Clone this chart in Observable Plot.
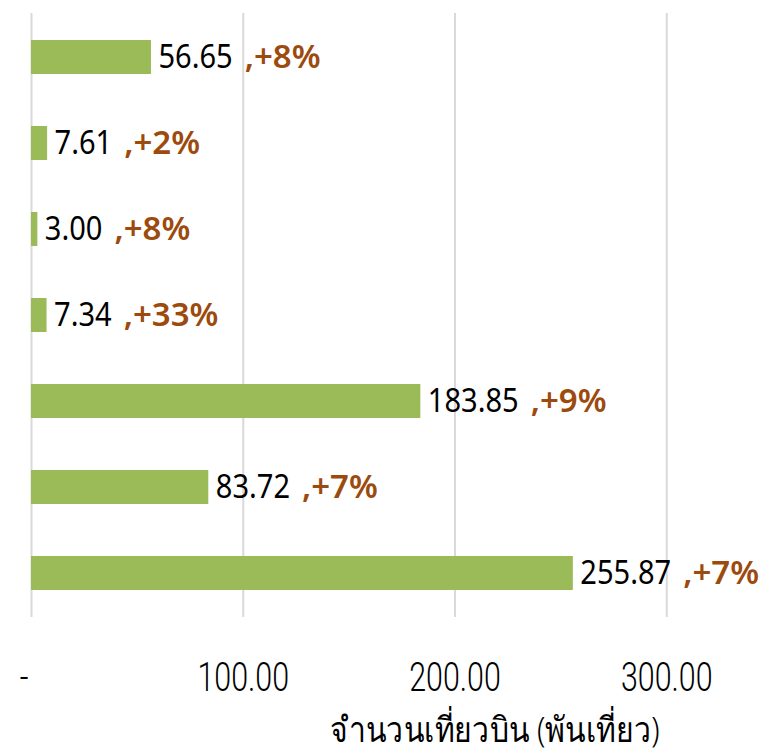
<!DOCTYPE html>
<html>
<head>
<meta charset="utf-8">
<script src="https://cdn.jsdelivr.net/npm/d3@7"></script>
<script src="https://cdn.jsdelivr.net/npm/@observablehq/plot@0.6"></script>
<style>
  body { margin: 0; background: #fff; }
  #chart { position: relative; width: 765px; height: 752px; overflow: hidden; }
  #xtitle { position: absolute; left: 495px; top: 710px; transform: translateX(-50%) scaleX(0.86);
    font-family: "Noto Sans", sans-serif; font-weight: 300; font-size: 35px; line-height: 1.1; color: #000; white-space: nowrap; }
</style>
</head>
<body>
<div id="chart"><div id="xtitle">จำนวนเที่ยวบิน (พันเที่ยว)</div></div>
<script>
const categories = ["A", "B", "C", "D", "E", "F", "G"];
const values = [56.65, 7.61, 3.00, 7.34, 183.85, 83.72, 255.87];
const changes = ["+8%", "+2%", "+8%", "+33%", "+9%", "+7%", "+7%"];
const tickValues = [0, 100, 200, 300];
const tickLabels = ["-\u00a0\u00a0", "100.00", "200.00", "300.00"];

const data = categories.map((c, i) => ({cat: c, value: values[i], change: changes[i]}));
const tickMap = new Map(tickValues.map((t, i) => [t, tickLabels[i]]));
const fmt = d3.format(".2f");

const chart = Plot.plot({
  width: 765,
  height: 710,
  marginLeft: 31,
  marginRight: 14,
  marginTop: 13,
  marginBottom: 93,
  style: {fontFamily: "Roboto, 'Noto Sans', sans-serif", fontSize: "30px", color: "#000", background: "#fff"},
  x: {domain: [0, 340]},
  y: {domain: categories, axis: null, paddingInner: 0.6, paddingOuter: 0.3},
  marks: [
    Plot.gridX({ticks: tickValues, stroke: "#d9d9d9", strokeOpacity: 1, strokeWidth: 2}),
    Plot.axisX({ticks: tickValues, tickFormat: d => tickMap.get(d), tickSize: 0, tickPadding: 45, label: null,
      fontSize: 40, fontWeight: 300, fontFamily: "Roboto, 'Noto Sans', sans-serif", className: "xticks"}),
    Plot.barX(data, {x: "value", y: "cat", fill: "#9bbb59"}),
    Plot.text(data, {x: "value", y: "cat", text: d => fmt(d.value), textAnchor: "start", dx: 7,
      fontSize: 33, fontFamily: "'Noto Sans', sans-serif", fill: "#000", className: "vlab"}),
    Plot.text(data, {x: "value", y: "cat", text: d => "," + d.change, textAnchor: "start", dx: 7,
      fontSize: 33, fontWeight: 600, fontFamily: "'Noto Sans', sans-serif", fill: "#9c4a0d", className: "plab"})
  ]
});

document.getElementById("chart").prepend(chart);

// horizontal squeeze of text about an anchor point (left edge or centre)
function squeeze(t, sx, anchor) {
  const b = t.getBBox();
  const cx = anchor === "start" ? b.x : b.x + b.width / 2;
  const cy = b.y + b.height / 2;
  const prev = t.getAttribute("transform") || "";
  t.setAttribute("transform", `${prev} translate(${cx},${cy}) scale(${sx},1) translate(${-cx},${-cy})`);
}

const VSX = 0.88;
const vtexts = chart.querySelectorAll(".vlab text");
const ptexts = chart.querySelectorAll(".plab text");
ptexts.forEach((t, i) => {
  const w = vtexts[i].getComputedTextLength() * VSX;
  t.setAttribute("dx", w + 12);
});
vtexts.forEach(t => squeeze(t, VSX, "start"));
chart.querySelectorAll(".xticks text").forEach(t => squeeze(t, 0.76, "middle"));
</script>
</body>
</html>
